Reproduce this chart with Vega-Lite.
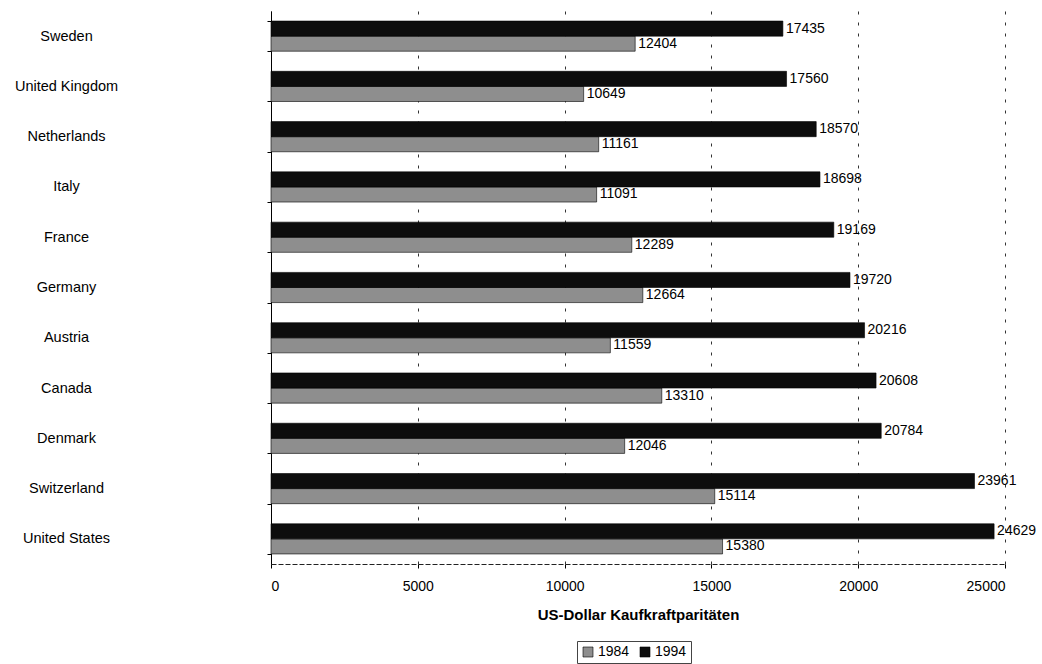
{
  "$schema": "https://vega.github.io/schema/vega-lite/v6.json",
  "autosize": "none",
  "width": 734,
  "height": 553,
  "padding": {"left": 271, "top": 11, "right": 37, "bottom": 100},
  "background": "white",
  "config": {
    "font": "Liberation Sans",
    "view": {"stroke": null}
  },
  "data": {
    "values": [
      {"country": "Sweden", "year": "1984", "value": 12404},
      {"country": "Sweden", "year": "1994", "value": 17435},
      {"country": "United Kingdom", "year": "1984", "value": 10649},
      {"country": "United Kingdom", "year": "1994", "value": 17560},
      {"country": "Netherlands", "year": "1984", "value": 11161},
      {"country": "Netherlands", "year": "1994", "value": 18570},
      {"country": "Italy", "year": "1984", "value": 11091},
      {"country": "Italy", "year": "1994", "value": 18698},
      {"country": "France", "year": "1984", "value": 12289},
      {"country": "France", "year": "1994", "value": 19169},
      {"country": "Germany", "year": "1984", "value": 12664},
      {"country": "Germany", "year": "1994", "value": 19720},
      {"country": "Austria", "year": "1984", "value": 11559},
      {"country": "Austria", "year": "1994", "value": 20216},
      {"country": "Canada", "year": "1984", "value": 13310},
      {"country": "Canada", "year": "1994", "value": 20608},
      {"country": "Denmark", "year": "1984", "value": 12046},
      {"country": "Denmark", "year": "1994", "value": 20784},
      {"country": "Switzerland", "year": "1984", "value": 15114},
      {"country": "Switzerland", "year": "1994", "value": 23961},
      {"country": "United States", "year": "1984", "value": 15380},
      {"country": "United States", "year": "1994", "value": 24629}
    ]
  },
  "encoding": {
    "y": {
      "field": "country",
      "type": "nominal",
      "sort": ["Sweden", "United Kingdom", "Netherlands", "Italy", "France", "Germany", "Austria", "Canada", "Denmark", "Switzerland", "United States"],
      "scale": {"paddingInner": 0.4, "paddingOuter": 0.2},
      "axis": {
        "title": null,
        "labelAlign": "center",
        "labelPadding": 201,
        "labelFontSize": 14.5,
        "labelColor": "#000",
        "tickBand": "extent",
        "tickSize": 4,
        "tickColor": "#000",
        "domainColor": "#000",
        "grid": false
      }
    },
    "yOffset": {
      "field": "year",
      "type": "nominal",
      "sort": ["1994", "1984"],
      "scale": {"paddingInner": 0, "paddingOuter": 0}
    },
    "x": {
      "field": "value",
      "type": "quantitative",
      "scale": {"domain": [0, 25000], "nice": false},
      "axis": {
        "title": "US-Dollar Kaufkraftparitäten",
        "titleFontSize": 15,
        "titleFontWeight": "bold",
        "titleColor": "#000",
        "titlePadding": 14,
        "values": [0, 5000, 10000, 15000, 20000, 25000],
        "format": "d",
        "labelFontSize": 14,
        "labelColor": "#000",
        "labelPadding": 11,
        "tickSize": 4,
        "tickColor": "#000",
        "domainColor": "#222",
        "domainDash": [5, 2],
        "grid": true,
        "gridColor": "#333",
        "gridDash": [3, 8],
        "gridWidth": 1
      }
    }
  },
  "layer": [
    {
      "mark": {"type": "bar", "stroke": "#000", "strokeWidth": 0.6},
      "encoding": {
        "color": {
          "field": "year",
          "type": "nominal",
          "scale": {"domain": ["1984", "1994"], "range": ["#8e8e8e", "#0d0d0d"]},
          "legend": {
            "title": null,
            "orient": "none",
            "direction": "horizontal",
            "legendX": 306,
            "legendY": 630,
            "symbolType": "square",
            "symbolSize": 100,
            "symbolStrokeColor": "#000",
            "symbolStrokeWidth": 0.6,
            "labelFontSize": 14,
            "labelColor": "#000",
            "labelOffset": 3,
            "columnPadding": 8,
            "padding": 4,
            "strokeColor": "#444"
          }
        }
      }
    },
    {
      "mark": {"type": "text", "align": "left", "baseline": "middle", "dx": 3, "fontSize": 14, "color": "#000"},
      "encoding": {
        "text": {"field": "value", "type": "quantitative", "format": "d"}
      }
    }
  ]
}
